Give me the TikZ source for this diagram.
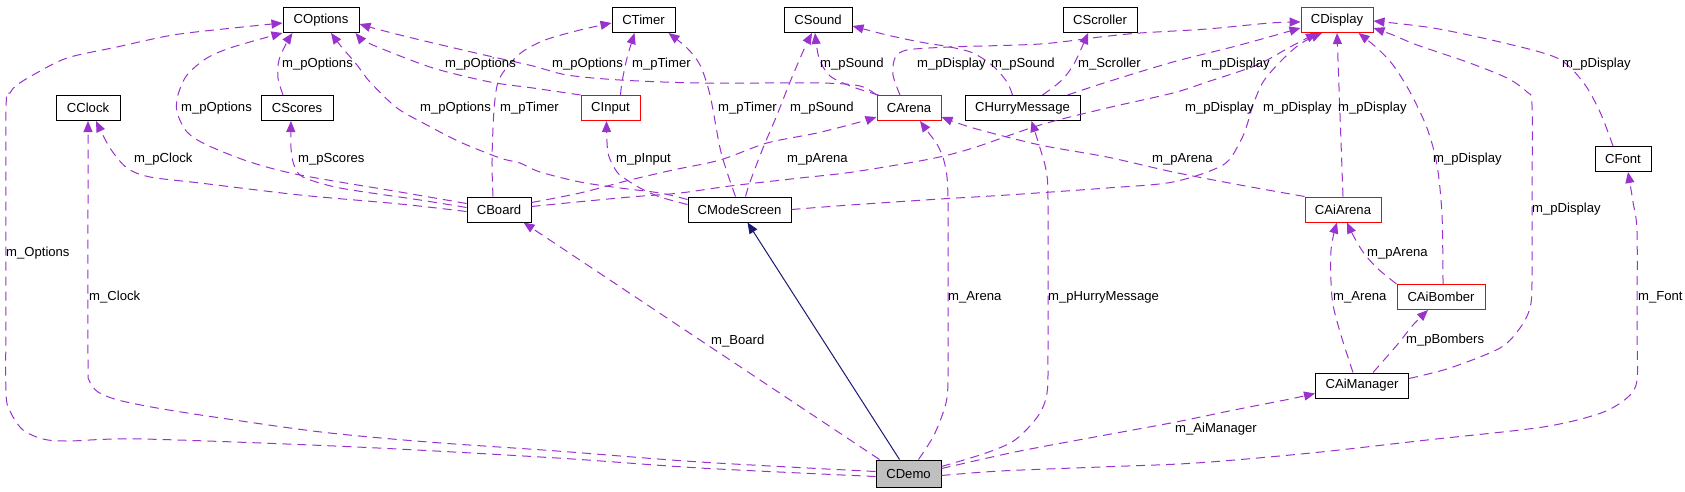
\documentclass[tikz,border=0pt]{standalone}
\usepackage{fontspec}
\setmainfont{Liberation Sans}
\usetikzlibrary{arrows.meta,calc}
\definecolor{dorchid}{HTML}{9A32CD}
\definecolor{mnavy}{HTML}{191970}
\definecolor{grey75}{HTML}{BFBFBF}
\newcommand{\lblfont}{\fontsize{13.1}{15}\selectfont}
\tikzset{
  cls/.style={draw=black, line width=1pt, minimum height=25pt, inner sep=0pt, font=\lblfont},
  redcls/.style={cls, draw=red},
  dep/.style={draw=dorchid, line width=1pt, dash pattern=on 9pt off 6pt, -{Triangle[length=11pt,width=9pt,fill=dorchid]}},
  inh/.style={draw=mnavy, line width=1pt, -{Triangle[length=11pt,width=9pt,fill=mnavy]}},
  lab/.style={font=\lblfont, anchor=west, inner sep=0pt}
}
\begin{document}
\begin{tikzpicture}[x=1pt,y=-1pt]
\useasboundingbox (0,0) rectangle (1685,491);
% nodes
\node[cls, minimum width=76pt] (COptions) at (321,20) {COptions};
\node[cls, minimum width=63pt] (CTimer) at (643.5,20) {CTimer};
\node[cls, minimum width=68pt] (CSound) at (818,20) {CSound};
\node[cls, minimum width=74pt] (CScroller) at (1100,20) {CScroller};
\node[redcls, minimum width=72pt] (CDisplay) at (1337,20) {CDisplay};
\node[cls, minimum width=64pt] (CClock) at (88,108) {CClock};
\node[cls, minimum width=72pt] (CScores) at (297,108) {CScores};
\node[redcls, minimum width=59pt] (CInput) at (610.5,108) {CInput};
\node[redcls, minimum width=64pt] (CArena) at (909,108) {CArena};
\node[cls, minimum width=115pt] (CHurryMessage) at (1022.5,108) {CHurryMessage};
\node[cls, minimum width=56pt] (CFont) at (1623,159) {CFont};
\node[cls, minimum width=64pt] (CBoard) at (499,209.5) {CBoard};
\node[cls, minimum width=103pt] (CModeScreen) at (739.5,209.5) {CModeScreen};
\node[redcls, minimum width=76pt] (CAiArena) at (1343,209.5) {CAiArena};
\node[redcls, minimum width=88pt] (CAiBomber) at (1441,297) {CAiBomber};
\node[cls, minimum width=93pt] (CAiManager) at (1362,385.5) {CAiManager};
\node[cls, minimum width=65pt, minimum height=27pt, fill=grey75] (CDemo) at (908.5,473.5) {CDemo};

% inheritance
\draw[inh] ($(CDemo.north)+(-9,0)$) -- ($(CModeScreen.south)+(8,0)$);

% CDemo members
\draw[dep] plot[smooth] coordinates {($(CDemo.west)+(0,3)$) (700,468) (557,458) (357,447) (143,439) (68,441) (43,439) (23,430) (11,413) (6,393) (6,300) (6,110) (10,93) (17,85) (33,75) (67,58) (117,47) (173,35) (233,28) ($(COptions.west)+(0,3)$)};
\draw[dep] plot[smooth] coordinates {($(CDemo.west)+(0,-2)$) (700,462) (557,451) (428,442) (321,432) (214,417) (157,408) (118,400) (98,392) (89,380) (88,360) (88,200) (CClock.south)};
\draw[dep] ($(CDemo.north west)+(4,0)$) -- ($(CBoard.south east)+(-8,0)$);
\draw[dep] plot[smooth] coordinates {($(CDemo.north east)+(-23,0)$) (933,437) (943,413) (947.5,393) (948,350) (948,200) (945,165) (938,146) (928,132) ($(CArena.south)+(11,0)$)};
\draw[dep] plot[smooth] coordinates {($(CDemo.east)+(0,-7)$) (986,453) (1015,440) (1038,416) (1047,393) (1048,350) (1048,200) (1046,170) (1040,148) ($(CHurryMessage.south)+(9,0)$)};
\draw[dep] plot[smooth] coordinates {($(CDemo.east)+(0,-5)$) (1015,452) (1100,436) (1176,422) (1234,410) (1290,399) ($(CAiManager.west)+(0,8)$)};
\draw[dep] plot[smooth] coordinates {($(CDemo.east)+(0,2)$) (1000,471) (1100,467) (1196,463) (1311,453) (1427,440) (1543,427) (1601,413) (1628,397) (1637,380) (1637,330) (1637,232) (1633,202) ($(CFont.south)+(5,0)$)};

% CBoard members
\draw[dep] plot[smooth] coordinates {($(CBoard.west)+(0,-6)$) (400,192) (300,175) (250,162) (207,145) (187,132) (177,112) (178,95) (187,75) (207,58) (233,47) (COptions.south west)};
\draw[dep] plot[smooth] coordinates {($(CBoard.west)+(0,2)$) (400,204) (300,195) (200,183) (150,177) (127,168) (110,148) ($(CClock.south)+(8,0)$)};
\draw[dep] plot[smooth] coordinates {($(CBoard.west)+(0,-2)$) (420,200) (340,188) (303,177) (294,165) (291,148) ($(CScores.south)+(-6,0)$)};
\draw[dep] plot[smooth] coordinates {($(CBoard.north)+(-6,0)$) (492,160) (494,110) (498,82) (508,66) (522,52) (545,40) (580,30) ($(CTimer.west)+(0,3)$)};
\draw[dep] plot[smooth] coordinates {($(CBoard.east)+(0,-7)$) (580,193) (630,180) (673,170) (720,160) (767,143) (817,133) (860,122) ($(CArena.west)+(0,9)$)};
\draw[dep] plot[smooth] coordinates {($(CBoard.east)+(0,-3)$) (577,202) (630,197) (680,193) (730,186) (800,178) (853,172) (930,159) (973,148) (1040,125) (1107,108) (1173,93) (1207,82) (1257,65) (1290,47) ($(CDisplay.south)+(-20,0)$)};

% CScores
\draw[dep] plot[smooth] coordinates {($(CScores.north)+(-14,0)$) (278,78) (279,60) (287,42) ($(COptions.south west)+(10,0)$)};

% CInput
\draw[dep] plot[smooth] coordinates {($(CInput.north)+(10,0)$) (622,82) (627,58) ($(CTimer.south)+(-9,0)$)};
\draw[dep] plot[smooth] coordinates {(CInput.north west) (533,88) (490,82) (433,68) (380,48) (363,40) ($(COptions.south east)+(-4,0)$)};

% CModeScreen
\draw[dep] plot[smooth] coordinates {($(CModeScreen.west)+(0,-10)$) (660,193) (620,188) (580,182) (540,172) (520,163) (500,158) (460,142) (427,125) (397,108) (370,82) (357,65) (340,45) ($(COptions.south)+(10,0)$)};
\draw[dep] plot[smooth] coordinates {($(CModeScreen.west)+(0,-5)$) (660,197) (640,188) (627,180) (617,172) (608,153) ($(CInput.south)+(-4,0)$)};
\draw[dep] plot[smooth] coordinates {($(CModeScreen.north)+(-4,0)$) (728,175) (720,148) (710,95) (700,65) (687,48) ($(CTimer.south east)+(-7,0)$)};
\draw[dep] plot[smooth] coordinates {($(CModeScreen.north)+(6,0)$) (750,182) (763,148) (777,115) (790,82) (805,47) ($(CSound.south)+(-6,0)$)};
\draw[dep] plot[smooth] coordinates {(CModeScreen.east) (850,205) (940,199) (1007,195) (1107,188) (1173,182) (1223,165) (1240,142) (1247,125) (1253,105) (1263,82) (1280,62) (1300,44) ($(CDisplay.south)+(-15,0)$)};

% CArena
\draw[dep] plot[smooth] coordinates {(CArena.north west) (860,86) (820,83) (700,83) (620,80) (567,75) (533,66) (480,54) (433,43) (400,35) (373,28) ($(COptions.east)+(0,4)$)};
\draw[dep] plot[smooth] coordinates {($(CArena.north west)+(2,0)$) (853,87) (830,76) (819,58) ($(CSound.south)+(-3,0)$)};
\draw[dep] plot[smooth] coordinates {($(CArena.north)+(-9,0)$) (893,75) (895,58) (907,50) (950,47) (1040,44) (1100,37) (1140,33) (1207,29) (1270,23) ($(CDisplay.west)+(0,2)$)};

% CHurryMessage
\draw[dep] plot[smooth] coordinates {($(CHurryMessage.north)+(-10,0)$) (1007,82) (993,66) (973,53) (950,47) (920,42) (887,35) ($(CSound.east)+(0,6)$)};
\draw[dep] plot[smooth] coordinates {($(CHurryMessage.north)+(20,0)$) (1062,80) (1075,62) ($(CScroller.south)+(-12,0)$)};
\draw[dep] plot[smooth] coordinates {($(CHurryMessage.north east)+(-13,0)$) (1107,82) (1173,62) (1240,45) ($(CDisplay.west)+(0,8)$)};

% CAiArena
\draw[dep] (CAiArena.north) -- (CDisplay.south);
\draw[dep] plot[smooth] coordinates {(CAiArena.north west) (1240,185) (1173,172) (1107,157) (1040,145) (973,128) ($(CArena.east)+(0,9)$)};

% CAiBomber
\draw[dep] plot[smooth] coordinates {($(CAiBomber.north)+(2,0)$) (1442,215) (1437,165) (1427,128) (1410,92) (1393,65) (1377,48) ($(CDisplay.south east)+(-15,0)$)};
\draw[dep] plot[smooth] coordinates {(CAiBomber.north west) (1377,268) (1363,252) (1353,235) ($(CAiArena.south)+(4,0)$)};

% CAiManager
\draw[dep] plot[smooth] coordinates {($(CAiManager.east)+(0,-7)$) (1450,368) (1500,348) (1520,328) (1530,308) (1532,282) (1532,200) (1532,105) (1527,92) (1507,78) (1467,62) (1417,45) (1393,35) ($(CDisplay.east)+(0,8)$)};
\draw[dep] plot[smooth] coordinates {($(CAiManager.north)+(-9,0)$) (1340,332) (1332,298) (1331,250) ($(CAiArena.south)+(-6,0)$)};
\draw[dep] plot[smooth] coordinates {($(CAiManager.north)+(11,0)$) (1397,345) (1413,325) ($(CAiBomber.south)+(-13,0)$)};

% CFont
\draw[dep] plot[smooth] coordinates {($(CFont.north)+(-10,0)$) (1600,112) (1583,82) (1557,58) (1500,42) (1433,28) ($(CDisplay.east)+(0,1)$)};

% labels
\node[lab] (l1) at (6,253) {m\_Options};
\node[lab] (l2) at (89,297) {m\_Clock};
\node[lab] (l3) at (181,108) {m\_pOptions};
\node[lab] (l4) at (134,159) {m\_pClock};
\node[lab] (l5) at (282,64) {m\_pOptions};
\node[lab] (l6) at (298,159) {m\_pScores};
\node[lab] (l7) at (420,108) {m\_pOptions};
\node[lab] (l8) at (445,64) {m\_pOptions};
\node[lab] (l9) at (500,108) {m\_pTimer};
\node[lab] (l10) at (552,64) {m\_pOptions};
\node[lab] (l11) at (632,64) {m\_pTimer};
\node[lab] (l12) at (616,159) {m\_pInput};
\node[lab] (l13) at (718,108) {m\_pTimer};
\node[lab] (l14) at (790,108) {m\_pSound};
\node[lab] (l15) at (820,64) {m\_pSound};
\node[lab] (l16) at (787,159) {m\_pArena};
\node[lab] (l17) at (917,64) {m\_pDisplay};
\node[lab] (l18) at (991,64) {m\_pSound};
\node[lab] (l19) at (1078,64) {m\_Scroller};
\node[lab] (l20) at (1201,64) {m\_pDisplay};
\node[lab] (l21) at (1185,108) {m\_pDisplay};
\node[lab] (l22) at (1263,108) {m\_pDisplay};
\node[lab] (l23) at (1338,108) {m\_pDisplay};
\node[lab] (l24) at (1152,159) {m\_pArena};
\node[lab] (l25) at (1433,159) {m\_pDisplay};
\node[lab] (l26) at (1562,64) {m\_pDisplay};
\node[lab] (l27) at (1532,209) {m\_pDisplay};
\node[lab] (l28) at (1367,253) {m\_pArena};
\node[lab] (l29) at (1333,297) {m\_Arena};
\node[lab] (l30) at (1406,340) {m\_pBombers};
\node[lab] (l31) at (1638,297) {m\_Font};
\node[lab] (l32) at (948,297) {m\_Arena};
\node[lab] (l33) at (1048,297) {m\_pHurryMessage};
\node[lab] (l34) at (711,341) {m\_Board};
\node[lab] (l35) at (1175,429) {m\_AiManager};
\end{tikzpicture}
\end{document}
